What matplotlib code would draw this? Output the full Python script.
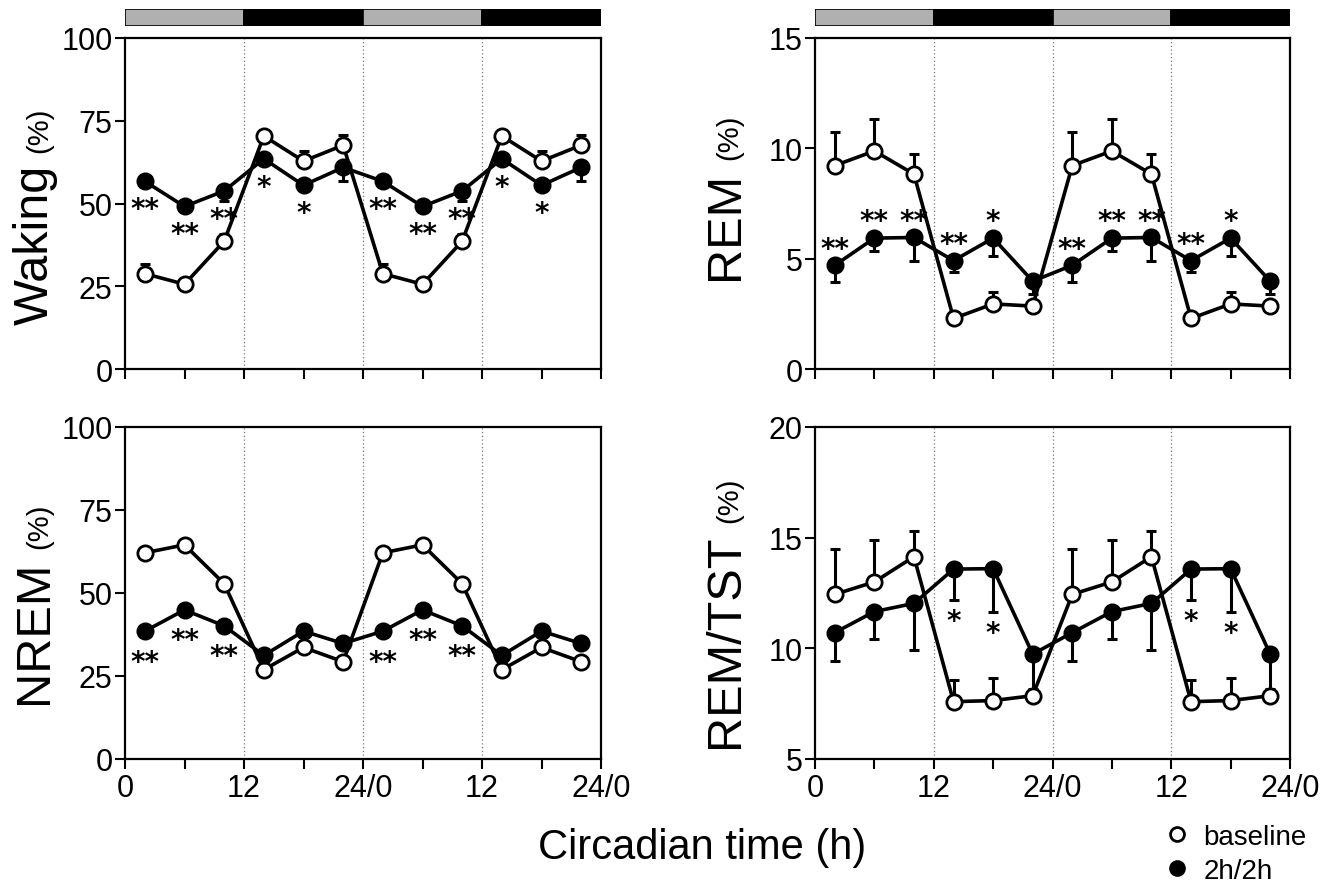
import numpy as np
import matplotlib
matplotlib.use("Agg")
import matplotlib.pyplot as plt
from matplotlib import font_manager
from matplotlib.lines import Line2D

# Circadian time of each 4-h bin (double plotted over 48 h)
hours = [2, 6, 10, 14, 18, 22]

# Waking (%)
wake_base = [28.8, 25.6, 38.6, 70.4, 62.8, 67.6]
wake_base_err = [2.8, 0.8, 2.3, 0.8, 3.1, 3.0]
wake_2h = [56.7, 49.1, 53.8, 63.5, 55.5, 60.9]
wake_2h_err = [1.0, 1.0, 3.0, 1.0, 1.0, 4.0]
wake_stars = ['**', '**', '**', '*', '*', '']

# REM (%)
rem_base = [9.22, 9.88, 8.83, 2.29, 2.95, 2.85]
rem_base_err = [1.5, 1.45, 0.9, 0.2, 0.55, 0.2]
rem_2h = [4.7, 5.93, 5.96, 4.91, 5.93, 3.98]
rem_2h_err = [0.75, 0.6, 1.05, 0.5, 0.8, 0.6]
rem_stars = ['**', '**', '**', '**', '*', '']

# NREM (%)
nrem_base = [62.1, 64.5, 52.8, 26.9, 33.6, 29.3]
nrem_base_err = [0.8, 0.8, 0.8, 0.8, 0.8, 0.8]
nrem_2h = [38.5, 44.9, 40.1, 31.2, 38.5, 34.8]
nrem_2h_err = [0.8, 0.8, 0.8, 0.8, 0.8, 0.8]
nrem_stars = ['**', '**', '**', '', '', '']

# REM/TST (%)
rt_base = [12.44, 13.0, 14.14, 7.59, 7.64, 7.86]
rt_base_err = [2.05, 1.9, 1.15, 1.0, 1.0, 0.3]
rt_2h = [10.71, 11.66, 12.03, 13.58, 13.6, 9.74]
rt_2h_err = [1.3, 1.25, 2.1, 1.4, 1.95, 1.6]
rt_stars = ['', '', '', '*', '*', '']

# light/dark schedule for the bar above the top panels
phase_start = [0, 12, 24, 36]
phase_len = [12, 12, 12, 12]
phase_color = ['#b0b0b0', 'black', '#b0b0b0', 'black']

xtick_pos = [0, 6, 12, 18, 24, 30, 36, 42, 48]
xtick_lab = ['0', '', '12', '', '24/0', '', '12', '', '24/0']

names = {f.name for f in font_manager.fontManager.ttflist}
plt.rcParams['font.family'] = ['Liberation Sans', 'DejaVu Sans']
if 'Liberation Sans Narrow' in names:
    tick_font, tick_size = 'Liberation Sans Narrow', 25
else:
    tick_font, tick_size = 'Liberation Sans', 22

W, H = 1323, 887
fig = plt.figure(figsize=(W / 100, H / 100), dpi=100)


def px_axes(x0, y0, x1, y1):
    # pixel box (top-left origin) -> figure axes
    return fig.add_axes([x0 / W, 1 - y1 / H, (x1 - x0) / W, (y1 - y0) / H])


x48 = np.concatenate([hours, np.array(hours) + 24])


def panel(ax, base, base_err, treat, treat_err, stars, ylim, yticks,
          name, split, star_mode, star_off, show_xlabels):
    b = np.tile(base, 2)
    be = np.tile(base_err, 2)
    t = np.tile(treat, 2)
    te = np.tile(treat_err, 2)
    for xv in (12, 24, 36):
        ax.axvline(xv, color='#777777', ls=(0, (1, 2)), lw=0.9, zorder=1)
    ax.errorbar(x48, b, yerr=[np.zeros_like(be), be], fmt='none',
                ecolor='black', elinewidth=2.2, capsize=3.5, capthick=2.2, zorder=2)
    ax.errorbar(x48, t, yerr=[te, np.zeros_like(te)], fmt='none',
                ecolor='black', elinewidth=2.2, capsize=3.5, capthick=2.2, zorder=2)
    ax.plot(x48, b, '-o', color='black', lw=2.6, ms=11, mfc='white',
            mec='black', mew=2.0, zorder=3)
    ax.plot(x48, t, '-o', color='black', lw=2.6, ms=11, mfc='black',
            mec='black', mew=2.0, zorder=4)
    for xi, yi, ei, s in zip(x48, t, te, np.tile(stars, 2)):
        if not s:
            continue
        anchor = yi - ei if star_mode == 'below_err' else yi
        ax.annotate(s, xy=(xi, anchor), xytext=(0, star_off),
                    textcoords='offset points', ha='center', va='center',
                    fontsize=20, fontweight='bold', family='DejaVu Sans')
    ax.set_xlim(0, 48)
    ax.set_ylim(*ylim)
    ax.set_yticks(yticks)
    ax.set_xticks(xtick_pos)
    ax.set_xticklabels(xtick_lab if show_xlabels else [''] * len(xtick_pos))
    ax.tick_params(direction='out', length=7, width=1.5, pad=2,
                   labelsize=tick_size)
    ax.tick_params(axis='x', pad=3)
    for lab in ax.get_xticklabels() + ax.get_yticklabels():
        lab.set_family(tick_font)
    for sp in ax.spines.values():
        sp.set_linewidth(1.6)
    # two-size y label: big word + smaller (%)
    ax.text(-0.163, split, name, transform=ax.transAxes, rotation=90,
            rotation_mode='anchor', ha='right', va='baseline', fontsize=35)
    ax.text(-0.163, split + 0.035, '(%)', transform=ax.transAxes, rotation=90,
            rotation_mode='anchor', ha='left', va='baseline', fontsize=21)


def ld_bar(x0, x1):
    bax = px_axes(x0, 10, x1, 27)
    bax.barh(0, phase_len, left=phase_start, height=1, color=phase_color,
             edgecolor='black', linewidth=1.2)
    bax.set_xlim(0, 48)
    bax.set_ylim(-0.5, 0.5)
    bax.axis('off')


L0, L1 = 125, 601
R0, R1 = 815, 1290
T0, T1 = 39, 370
B0, B1 = 428, 760

ax1 = px_axes(L0, T0, L1, T1)
panel(ax1, wake_base, wake_base_err, wake_2h, wake_2h_err, wake_stars,
      (0, 100), [0, 25, 50, 75, 100], 'Waking', 0.62, 'below', -20, False)
ax2 = px_axes(R0, T0, R1, T1)
panel(ax2, rem_base, rem_base_err, rem_2h, rem_2h_err, rem_stars,
      (0, 15), [0, 5, 10, 15], 'REM', 0.60, 'above', 12, False)
ax3 = px_axes(L0, B0, L1, B1)
panel(ax3, nrem_base, nrem_base_err, nrem_2h, nrem_2h_err, nrem_stars,
      (0, 100), [0, 25, 50, 75, 100], 'NREM', 0.60, 'below', -22, True)
ax4 = px_axes(R0, B0, R1, B1)
panel(ax4, rt_base, rt_base_err, rt_2h, rt_2h_err, rt_stars,
      (5, 20), [5, 10, 15, 20], 'REM/TST', 0.68, 'below_err', -15, True)

ld_bar(L0, L1)
ld_bar(R0, R1)

fig.text(702 / W, 1 - 848 / H, 'Circadian time (h)', ha='center',
         va='center', fontsize=30)

handles = [
    Line2D([], [], ls='none', marker='o', ms=10, mfc='white', mec='black', mew=2),
    Line2D([], [], ls='none', marker='o', ms=10, mfc='black', mec='black', mew=2),
]
fig.legend(handles, ['baseline', '2h/2h'], loc='center left',
           bbox_to_anchor=(1166 / W, 1 - 855 / H), frameon=False,
           fontsize=20, handlelength=0.8, handletextpad=0.55,
           labelspacing=0.3, borderpad=0, borderaxespad=0)

fig.savefig('out.png', dpi=100)
